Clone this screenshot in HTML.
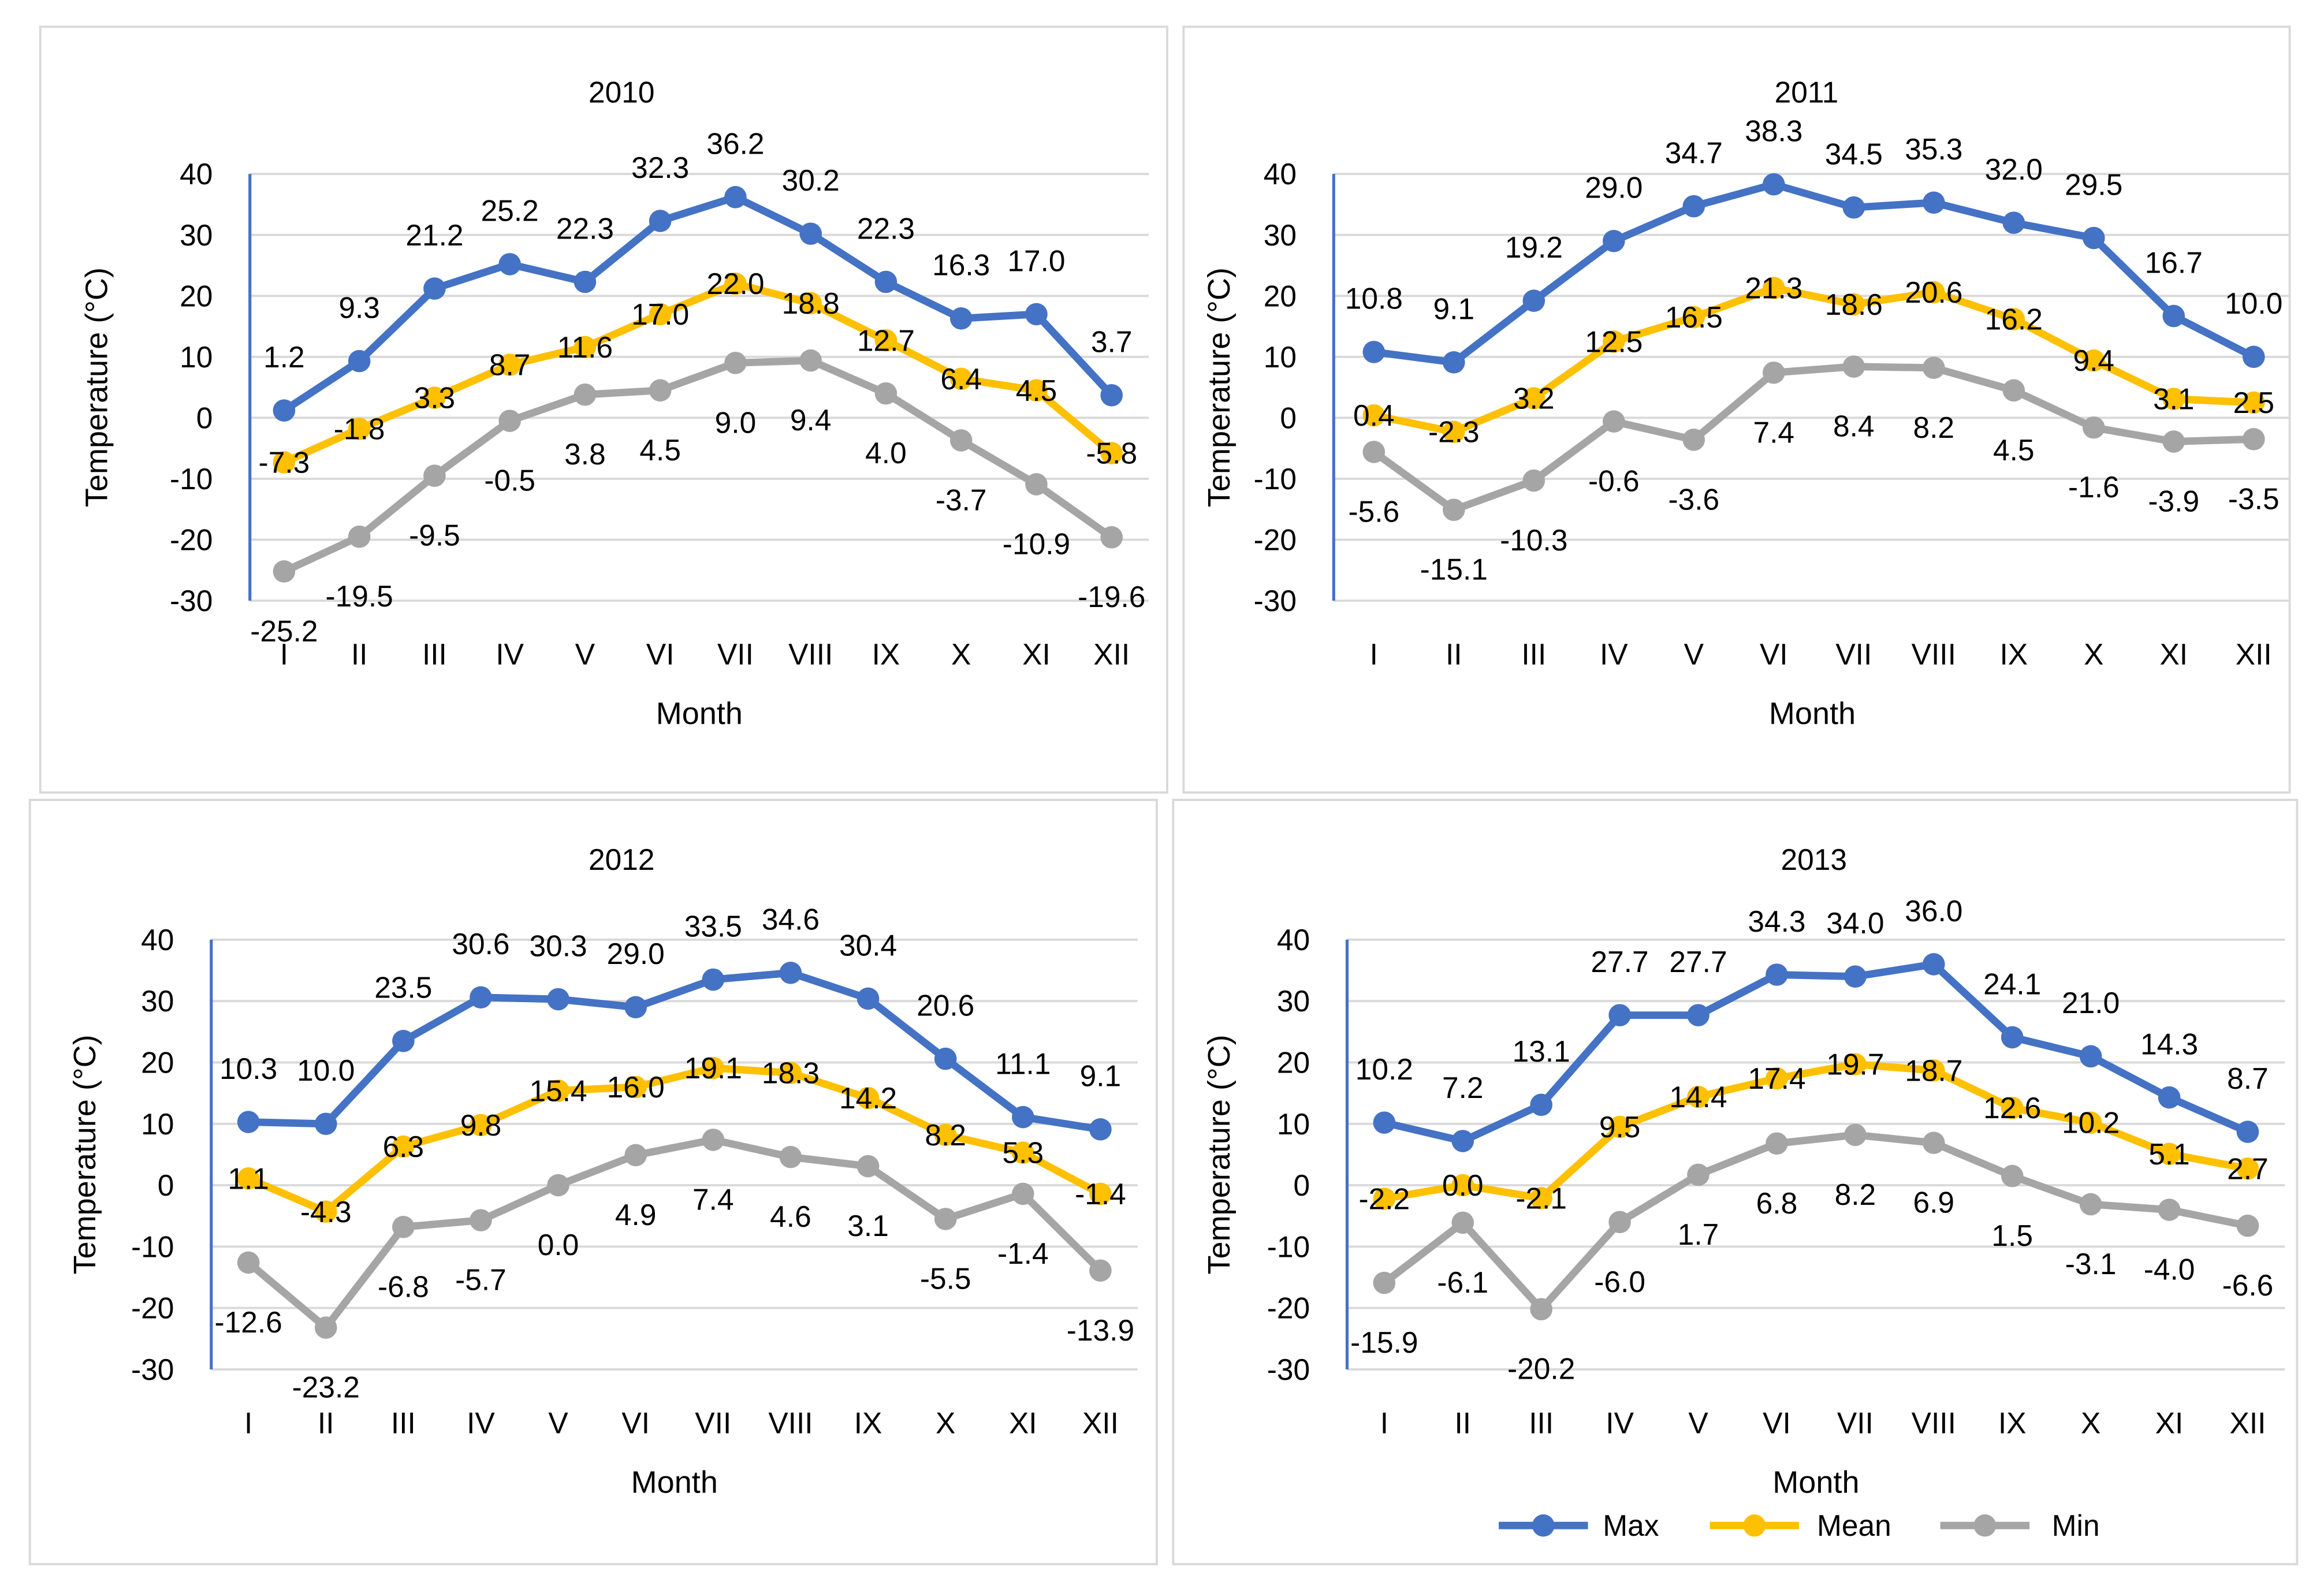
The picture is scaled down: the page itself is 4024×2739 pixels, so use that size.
<!DOCTYPE html>
<html><head><meta charset="utf-8"><style>
html,body{margin:0;padding:0;background:#fff;}
svg{display:block;font-family:"Liberation Sans",sans-serif;}
</style></head><body>
<svg id="root" width="4024" height="2739" viewBox="0 0 1563 1064" xmlns="http://www.w3.org/2000/svg">
<rect x="0" y="0" width="1563" height="1064" fill="#fff"/>
</svg>
<script>
const months = ["I","II","III","IV","V","VI","VII","VIII","IX","X","XI","XII"];
const yTicks = [40,30,20,10,0,-10,-20,-30];
const years = ["2010","2011","2012","2013"];
const max2010 = [1.2,9.3,21.2,25.2,22.3,32.3,36.2,30.2,22.3,16.3,17.0,3.7];
const mean2010 = [-7.3,-1.8,3.3,8.7,11.6,17.0,22.0,18.8,12.7,6.4,4.5,-5.8];
const min2010 = [-25.2,-19.5,-9.5,-0.5,3.8,4.5,9.0,9.4,4.0,-3.7,-10.9,-19.6];
const max2011 = [10.8,9.1,19.2,29.0,34.7,38.3,34.5,35.3,32.0,29.5,16.7,10.0];
const mean2011 = [0.4,-2.3,3.2,12.5,16.5,21.3,18.6,20.6,16.2,9.4,3.1,2.5];
const min2011 = [-5.6,-15.1,-10.3,-0.6,-3.6,7.4,8.4,8.2,4.5,-1.6,-3.9,-3.5];
const max2012 = [10.3,10.0,23.5,30.6,30.3,29.0,33.5,34.6,30.4,20.6,11.1,9.1];
const mean2012 = [1.1,-4.3,6.3,9.8,15.4,16.0,19.1,18.3,14.2,8.2,5.3,-1.4];
const min2012 = [-12.6,-23.2,-6.8,-5.7,0.0,4.9,7.4,4.6,3.1,-5.5,-1.4,-13.9];
const max2013 = [10.2,7.2,13.1,27.7,27.7,34.3,34.0,36.0,24.1,21.0,14.3,8.7];
const mean2013 = [-2.2,0.0,-2.1,9.5,14.4,17.4,19.7,18.7,12.6,10.2,5.1,2.7];
const min2013 = [-15.9,-6.1,-20.2,-6.0,1.7,6.8,8.2,6.9,1.5,-3.1,-4.0,-6.6];

const NS="http://www.w3.org/2000/svg";
const root=document.getElementById('root');
function mk(tag,attrs,parent,text){const e=document.createElementNS(NS,tag);for(const k in attrs)e.setAttribute(k,attrs[k]);if(text!==undefined)e.textContent=text;(parent||root).appendChild(e);return e;}
const COL={max:"#4472C4",mean:"#FFC000",min:"#A5A5A5"};
const panels=[
 {box:[27,18,758,515],ax:168,ytx:65,x0:191,dx:50.6,top:117,bot:404,tx:418,ty:62,max:max2010,mean:mean2010,min:min2010},
 {box:[796,18,744,515],ax:897,ytx:820,x0:924,dx:53.8,top:117,bot:404,tx:1215,ty:62,max:max2011,mean:mean2011,min:min2011},
 {box:[20,538,758,514],ax:142,ytx:57,x0:167,dx:52.1,top:632,bot:921,tx:418,ty:578,max:max2012,mean:mean2012,min:min2012},
 {box:[789,538,756,514],ax:906,ytx:820,x0:931,dx:52.8,top:632,bot:921,tx:1220,ty:578,max:max2013,mean:mean2013,min:min2013}
];
panels.forEach((p,pi)=>{
 const g=mk('g',{});
 
 
 const b=mk('rect',{x:p.box[0],y:p.box[1],width:p.box[2],height:p.box[3],fill:'none',stroke:'#d9d9d9','stroke-width':1.5},g);
 
 
 const yS=v=>p.top+(40-v)*(p.bot-p.top)/70;
 const xS=i=>p.x0+i*p.dx;
 const right=xS(11)+25;
 yTicks.forEach(t=>{
  const l=mk('line',{x1:p.ax,x2:right,y1:yS(t),y2:yS(t),stroke:'#d9d9d9','stroke-width':1.5},g);
  
  
  const tl=mk('text',{x:p.ax-25,y:yS(t)+7,'text-anchor':'end','font-size':20,fill:'#000'},g,String(t));
  
  
 });
 const axl=mk('line',{x1:p.ax,x2:p.ax,y1:yS(40),y2:yS(-30),stroke:'#4472C4','stroke-width':2},g);
 
 
 months.forEach((m,i)=>{
  const t=mk('text',{x:xS(i),y:p.bot+43,'text-anchor':'middle','font-size':20},g,m);
  
  
 });
 const tt=mk('text',{x:p.tx,y:p.ty+7,'text-anchor':'middle','font-size':20},g,years[pi]);
 
 
 const xt=mk('text',{x:(p.ax+right)/2,y:p.bot+83,'text-anchor':'middle','font-size':21},g,'Month');
 
 
 const ycx=p.ytx+7, ycy=(p.top+p.bot)/2;
 const yt=mk('text',{x:ycx,y:ycy,'text-anchor':'middle','font-size':21,transform:`rotate(-90 ${ycx} ${ycy})`},g,'Temperature (°C)');
 
 
 [['min',40],['mean',0],['max',-36]].forEach(([k,off])=>{
  const d=p[k];
  const pl=mk('polyline',{points:d.map((v,i)=>xS(i)+','+yS(v)).join(' '),fill:'none',stroke:COL[k],'stroke-width':5,'stroke-linejoin':'round'},g);
  
  
  d.forEach((v,i)=>{
   const c=mk('circle',{cx:xS(i),cy:yS(v),r:7.5,fill:COL[k]},g);
   
   
  });
  d.forEach((v,i)=>{
   const t=mk('text',{x:xS(i),y:yS(v)+off+7,'text-anchor':'middle','font-size':20},g,v.toFixed(1));
   
   
  });
 });
});
const lg=mk('g',{});


[['Max','max',1008,1078],['Mean','mean',1150,1222],['Min','min',1305,1380]].forEach(([n,k,x,tx])=>{
 const e=mk('g',{},lg);
 
 
 mk('line',{x1:x,x2:x+60,y1:1026,y2:1026,stroke:COL[k],'stroke-width':5},e);
 mk('circle',{cx:x+30,cy:1026,r:7.5,fill:COL[k]},e);
 mk('text',{x:tx,y:1033,'font-size':20},e,n);
});
</script>
</body></html>
